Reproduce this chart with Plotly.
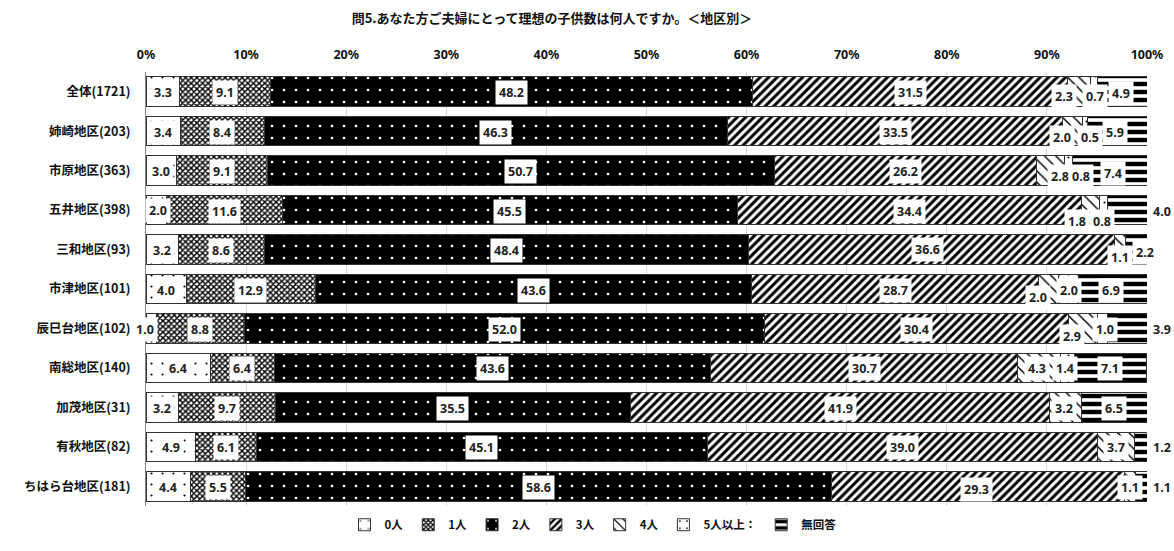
import plotly.graph_objects as go

categories = ["全体(1721)", "姉崎地区(203)", "市原地区(363)", "五井地区(398)", "三和地区(93)",
              "市津地区(101)", "辰巳台地区(102)", "南総地区(140)", "加茂地区(31)", "有秋地区(82)",
              "ちはら台地区(181)"]
series_names = ["0人", "1人", "2人", "3人", "4人", "5人以上：", "無回答"]

v_0 = [3.3, 3.4, 3.0, 2.0, 3.2, 4.0, 1.0, 6.4, 3.2, 4.9, 4.4]
v_1 = [9.1, 8.4, 9.1, 11.6, 8.6, 12.9, 8.8, 6.4, 9.7, 6.1, 5.5]
v_2 = [48.2, 46.3, 50.7, 45.5, 48.4, 43.6, 52.0, 43.6, 35.5, 45.1, 58.6]
v_3 = [31.5, 33.5, 26.2, 34.4, 36.6, 28.7, 30.4, 30.7, 41.9, 39.0, 29.3]
v_4 = [2.3, 2.0, 2.8, 1.8, 1.1, 2.0, 2.9, 4.3, 3.2, 3.7, 1.1]
v_5 = [0.7, 0.5, 0.8, 0.8, 0.0, 2.0, 1.0, 1.4, 0.0, 0.0, 0.0]
v_none = [4.9, 5.9, 7.4, 4.0, 2.2, 6.9, 3.9, 7.1, 6.5, 1.2, 1.1]

tick_vals = [0, 10, 20, 30, 40, 50, 60, 70, 80, 90, 100]
tick_text = ["0%", "10%", "20%", "30%", "40%", "50%", "60%", "70%", "80%", "90%", "100%"]

title_text = "問5.あなた方ご夫婦にとって理想の子供数は何人ですか。＜地区別＞"

all_series = [v_0, v_1, v_2, v_3, v_4, v_5, v_none]

patterns = [
    dict(shape=".", bgcolor="white", fgcolor="black", size=11, solidity=0.03),
    dict(shape="x", bgcolor="white", fgcolor="black", size=4, solidity=0.6),
    dict(shape=".", bgcolor="black", fgcolor="white", size=12, solidity=0.04),
    dict(shape="/", bgcolor="white", fgcolor="black", size=6, solidity=0.5),
    dict(shape="\\", bgcolor="white", fgcolor="black", size=8, solidity=0.18),
    dict(shape=".", bgcolor="white", fgcolor="black", size=9, solidity=0.04),
    dict(shape="-", bgcolor="white", fgcolor="black", size=8, solidity=0.55),
]
base_colors = ["white", "white", "black", "white", "white", "white", "white"]

CJK = "Noto Sans CJK JP"
NUM = "Noto Sans"

fig = go.Figure()
for name, vals, pat, col in zip(series_names, all_series, patterns, base_colors):
    pat = dict(pat, fgopacity=1, fillmode="replace")
    fig.add_trace(go.Bar(
        y=categories, x=vals, name=f"<b>{name}</b>", orientation="h",
        marker=dict(color=col, pattern=pat, line=dict(color="#333333", width=1)),
        hoverinfo="skip",
    ))

# label offsets (dx, dy) in pixels: style only
offsets = {
    (0, 4): (-15, 5), (0, 5): (1, 5), (0, 6): (-1, 2),
    (1, 4): (-11, 6), (1, 5): (5, 6), (1, 6): (-2, 1),
    (2, 4): (9, 6), (2, 5): (12, 6), (2, 6): (3, 3),
    (3, 0): (2, 0), (3, 4): (-14, 11), (3, 5): (-2, 11),
    (4, 3): (-4, 0), (4, 4): (0, 8), (4, 6): (8, 3),
    (5, 4): (-11, 8), (5, 6): (-2, 1),
    (6, 0): (-6, 1), (6, 4): (-11, 8), (6, 5): (2, 1),
    (7, 4): (-2, 1), (7, 5): (-3, 1),
    (8, 4): (-2, 1),
    (10, 3): (-2, 3),
}
outside = {(3, 6), (6, 6), (9, 6), (10, 6)}

annotations = []
for r, cat in enumerate(categories):
    cum = 0.0
    for s, vals in enumerate(all_series):
        v = vals[r]
        center = cum + v / 2
        cum += v
        if v <= 0:
            continue
        dx, dy = offsets.get((r, s), (0, 1))
        if (r, s) in outside:
            annotations.append(dict(
                x=100, y=cat, xref="x", yref="y", text=f"<b>{v:.1f}</b>",
                showarrow=False, xanchor="left", xshift=4, yshift=-1,
                font=dict(family=NUM, size=12.5, color="#222"),
            ))
        else:
            annotations.append(dict(
                x=center, y=cat, xref="x", yref="y", text=f"<b>{v:.1f}</b>",
                showarrow=False, xshift=dx, yshift=-dy,
                bgcolor="white", borderpad=3,
                font=dict(family=NUM, size=12.5, color="#222"),
            ))

fig.update_layout(
    barmode="stack",
    bargap=0.25,
    width=1174, height=551,
    margin=dict(l=146, r=27, t=72, b=39),
    paper_bgcolor="white", plot_bgcolor="white",
    title=dict(text=f"<b>{title_text}</b>", x=552 / 1174, xanchor="center",
               y=1 - 18 / 551, yanchor="middle",
               font=dict(family=CJK, size=13, color="#111")),
    annotations=annotations,
    legend=dict(orientation="h", x=(593 - 146) / 1001, xanchor="center",
                y=-(531 - 512) / 440, yanchor="middle",
                font=dict(family=CJK, size=11.5, color="#111"),
                itemwidth=30, tracegroupgap=0, traceorder="normal"),
    showlegend=True,
)
fig.update_xaxes(
    side="top", range=[0, 100], tickvals=tick_vals,
    ticktext=[f"<b>{t}</b>" for t in tick_text],
    tickfont=dict(family=NUM, size=12.5, color="#111"),
    showgrid=True, gridcolor="#d9d9d9", gridwidth=1,
    zeroline=False, showline=False, ticks="", ticklabelstandoff=10,
    fixedrange=True,
)
fig.update_yaxes(
    autorange="reversed", tickvals=categories,
    ticktext=[f"<b>{c}</b>" for c in categories],
    tickfont=dict(family=CJK, size=12.5, color="#111"),
    showline=True, linecolor="#888888", linewidth=1,
    ticks="", ticklabelstandoff=12, fixedrange=True,
)

fig.write_html("out.html", config={"displayModeBar": False},
               post_script="document.body.style.margin='0';")
